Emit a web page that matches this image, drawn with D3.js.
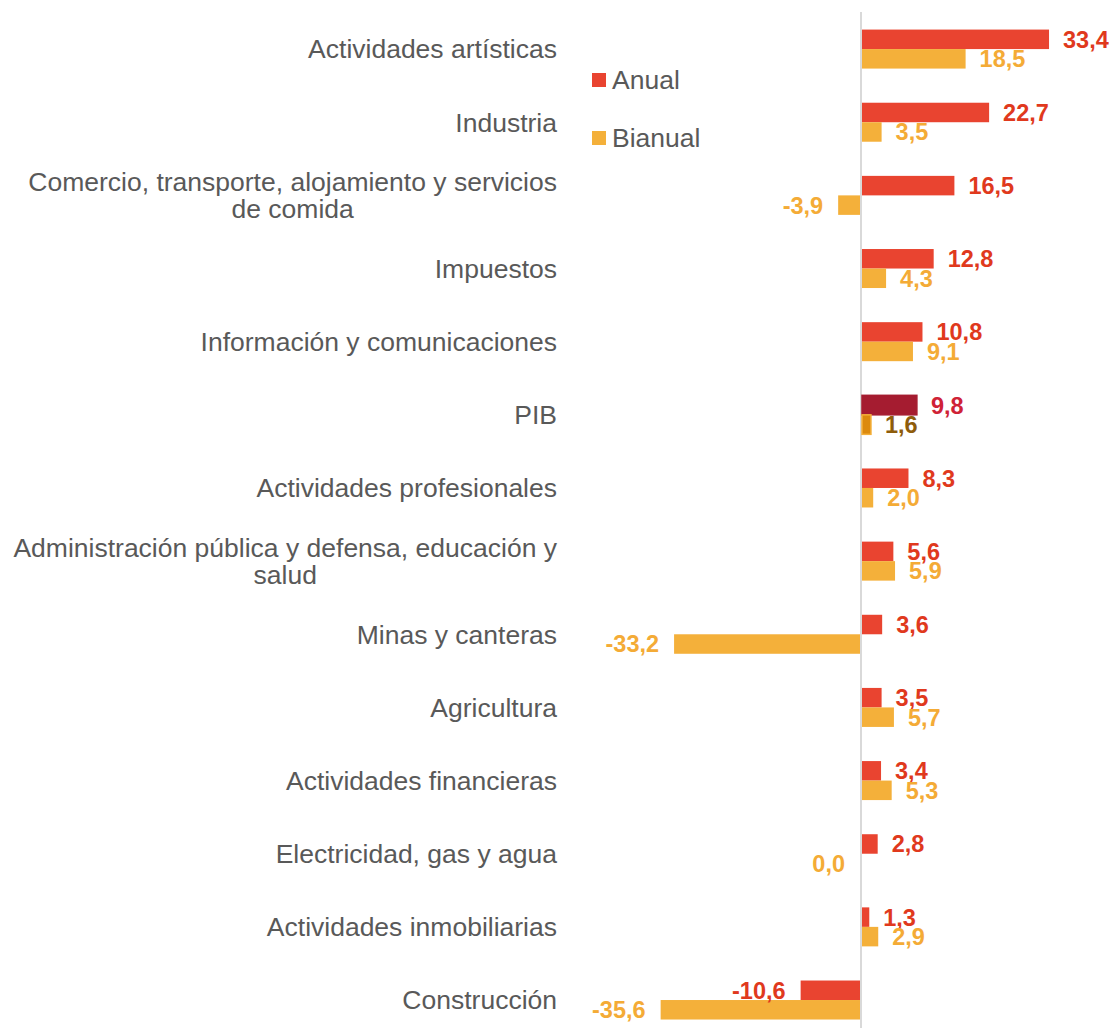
<!DOCTYPE html>
<html><head><meta charset="utf-8">
<script src="https://cdn.jsdelivr.net/npm/d3@7"></script>
<style>body{margin:0;background:#fff;} svg{display:block;}</style>
</head><body>
<svg id="chart" width="1114" height="1028"></svg>
<script>
const categories = [
  "Actividades artísticas",
  "Industria",
  "Comercio, transporte, alojamiento y servicios de comida",
  "Impuestos",
  "Información y comunicaciones",
  "PIB",
  "Actividades profesionales",
  "Administración pública y defensa, educación y salud",
  "Minas y canteras",
  "Agricultura",
  "Actividades financieras",
  "Electricidad, gas y agua",
  "Actividades inmobiliarias",
  "Construcción"
];
const anual   = [33.4, 22.7, 16.5, 12.8, 10.8, 9.8, 8.3, 5.6, 3.6, 3.5, 3.4, 2.8, 1.3, -10.6];
const bianual = [18.5, 3.5, -3.9, 4.3, 9.1, 1.6, 2.0, 5.9, -33.2, 5.7, 5.3, 0.0, 2.9, -35.6];
const seriesNames = ["Anual", "Bianual"];
const highlight = "PIB";

const svg = d3.select("#chart");
const font = "'Liberation Sans', Arial, sans-serif";
const colors = {
  Anual:   {bar: "#e94430", label: "#e0391d", hiBar: "#a51c30", hiLabel: "#cf2236", hiStroke: "#a51c30"},
  Bianual: {bar: "#f4b03a", label: "#f4ab36", hiBar: "#dc8a0e", hiLabel: "#8e5c0b", hiStroke: "#f4b03a"}
};

const x = d3.scaleLinear().domain([-40, 40]).range([637, 1085]);
const y = d3.scaleBand().domain(categories).range([12.5, 12.5 + 14 * 73.15]).padding(0);
const barH = 19.5;
const fmt = v => d3.format(".1f")(v).replace(".", ",").replace("−", "-");
const catSize = 26.5;

// axis line
svg.append("line")
  .attr("x1", x(0)).attr("x2", x(0))
  .attr("y1", 12).attr("y2", 1028)
  .attr("stroke", "#d9d9d9").attr("stroke-width", 2);

const data = [];
categories.forEach((c, i) => {
  data.push({cat: c, s: "Anual", v: anual[i], k: 0});
  data.push({cat: c, s: "Bianual", v: bianual[i], k: 1});
});

const cy = c => y(c) + y.bandwidth() / 2;

svg.append("g").selectAll("rect").data(data).join("rect")
  .attr("x", d => Math.min(x(0), x(d.v)) + (d.v >= 0 ? 1 : -1))
  .attr("width", d => Math.abs(x(d.v) - x(0)))
  .attr("y", d => cy(d.cat) - barH + d.k * barH)
  .attr("height", barH)
  .attr("fill", d => d.cat === highlight ? colors[d.s].hiBar : colors[d.s].bar)
  .attr("stroke", d => d.cat === highlight ? colors[d.s].hiStroke : "none")
  .attr("stroke-width", d => d.cat === highlight ? 1.5 : 0);

svg.append("g").selectAll("text").data(data).join("text")
  .attr("x", d => d.v > 0 ? x(d.v) + 15 : x(d.v) - 16)
  .attr("y", d => cy(d.cat) - barH / 2 + d.k * barH)
  .attr("dy", "0.36em")
  .attr("text-anchor", d => d.v > 0 ? "start" : "end")
  .attr("font-family", font).attr("font-weight", "bold").attr("font-size", 23.5)
  .attr("fill", d => d.cat === highlight ? colors[d.s].hiLabel : colors[d.s].label)
  .text(d => fmt(d.v));

// category labels
const labG = svg.append("g");
const maxW = 558;
categories.forEach(c => {
  const t = labG.append("text")
    .attr("x", 557).attr("text-anchor", "end")
    .attr("font-family", font).attr("font-size", catSize).attr("fill", "#595959");
  const words = c.split(" ");
  let lines = [], cur = [];
  const probe = t.append("tspan");
  words.forEach(w => {
    const test = cur.concat(w).join(" ");
    probe.text(test);
    if (probe.node().getComputedTextLength() > maxW && cur.length) {
      lines.push(cur.join(" ")); cur = [w];
    } else cur.push(w);
  });
  lines.push(cur.join(" "));
  probe.remove();
  const lh = 27;
  const y0 = cy(c) - (lines.length - 1) * lh / 2;
  lines.forEach((l, i) => {
    t.append("tspan").attr("x", 557)
      .attr("y", y0 + i * lh).attr("dy", "0.35em")
      .text(l);
  });
  if (lines.length > 1) {
    const spans = t.selectAll("tspan").nodes();
    const widths = spans.map(s => s.getComputedTextLength());
    const wMax = d3.max(widths);
    const center = 557 - wMax / 2;
    spans.forEach(s => d3.select(s).attr("x", center).attr("text-anchor", "middle"));
  }
});

// legend
const leg = svg.append("g");
seriesNames.forEach((s, i) => {
  const ly = 80 + i * 58;
  leg.append("rect").attr("x", 592).attr("y", ly - 7).attr("width", 14).attr("height", 14)
    .attr("fill", colors[s].bar);
  leg.append("text").attr("x", 612).attr("y", ly).attr("dy", "0.35em")
    .attr("font-family", font).attr("font-size", catSize).attr("fill", "#595959").text(s);
});
</script>
</body></html>
